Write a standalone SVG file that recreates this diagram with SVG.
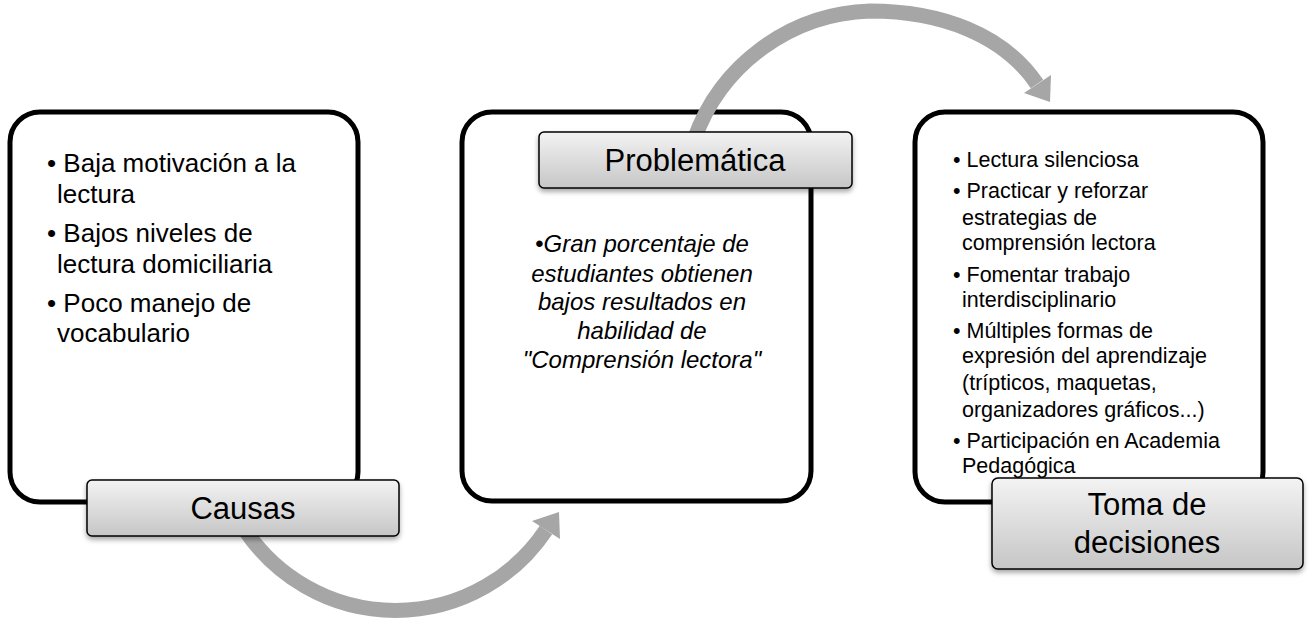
<svg xmlns="http://www.w3.org/2000/svg" width="1310" height="622" viewBox="0 0 1310 622">
<defs>
<linearGradient id="lg" x1="0" y1="0" x2="0" y2="1">
<stop offset="0" stop-color="#f3f3f3"/>
<stop offset="1" stop-color="#c6c6c6"/>
</linearGradient>
<filter id="sh" x="-10%" y="-20%" width="120%" height="160%">
<feDropShadow dx="0" dy="3" stdDeviation="2.5" flood-color="#000" flood-opacity="0.35"/>
</filter>
</defs>
<style>
.box{fill:#fff;stroke:#000;stroke-width:5}
.lab{fill:url(#lg);stroke:#000;stroke-width:1.5;filter:url(#sh)}
.t{font-family:"Liberation Sans",Arial,sans-serif;fill:#000}
.h{font-size:31px;text-anchor:middle}
.b1{font-size:26px}
.b2{font-size:24px;font-style:italic;text-anchor:middle}
.b3{font-size:21.5px}
.arc{fill:none;stroke:#a6a6a6;stroke-width:15}
.head{fill:#a6a6a6}
</style>
<g id="causas">
<rect class="box" x="10" y="112" width="348" height="390" rx="30"/>
<text class="t b1" x="47" y="172">• Baja motivación a la</text>
<text class="t b1" x="57" y="203">lectura</text>
<text class="t b1" x="47" y="242">• Bajos niveles de</text>
<text class="t b1" x="57" y="273">lectura domiciliaria</text>
<text class="t b1" x="47" y="312">• Poco manejo de</text>
<text class="t b1" x="57" y="342">vocabulario</text>
</g>
<g id="problematica">
<rect class="box" x="462" y="112" width="349" height="389" rx="30"/>
<text class="t b2" x="642" y="252">•Gran porcentaje de</text>
<text class="t b2" x="642" y="282">estudiantes obtienen</text>
<text class="t b2" x="642" y="310">bajos resultados en</text>
<text class="t b2" x="642" y="339">habilidad de</text>
<text class="t b2" x="642" y="368">"Comprensión lectora"</text>
</g>
<g id="toma">
<rect class="box" x="915" y="112" width="348" height="390" rx="30"/>
<text class="t b3" x="953" y="167">• Lectura silenciosa</text>
<text class="t b3" x="953" y="198">• Practicar y reforzar</text>
<text class="t b3" x="962" y="225">estrategias de</text>
<text class="t b3" x="962" y="250">comprensión lectora</text>
<text class="t b3" x="953" y="282">• Fomentar trabajo</text>
<text class="t b3" x="962" y="307">interdisciplinario</text>
<text class="t b3" x="953" y="338">• Múltiples formas de</text>
<text class="t b3" x="962" y="363">expresión del aprendizaje</text>
<text class="t b3" x="962" y="390">(trípticos, maquetas,</text>
<text class="t b3" x="962" y="417">organizadores gráficos...)</text>
<text class="t b3" x="953" y="448">• Participación en Academia</text>
<text class="t b3" x="962" y="473">Pedagógica</text>
</g>
<g id="connectors">
<path class="arc" d="M245,530 A181,181 0 0 0 546,530"/>
<polygon class="head" points="559,512 560,539 532,521"/>
<path class="arc" d="M694,140 A193,193 0 0 1 870,11 C940,11 1003,34 1037,84"/>
<polygon class="head" points="1050,102 1051,75 1024,93"/>
</g>
<g id="causas-label">
<rect class="lab" x="87" y="480" width="312" height="56" rx="5"/>
<text class="t h" x="243" y="519">Causas</text>
</g>
<g id="problematica-label">
<rect class="lab" x="539" y="132" width="313" height="56" rx="5"/>
<text class="t h" x="695" y="171">Problemática</text>
</g>
<g id="toma-label">
<rect class="lab" x="992" y="478" width="311" height="91" rx="6"/>
<text class="t h" x="1147" y="515">Toma de</text>
<text class="t h" x="1147" y="553">decisiones</text>
</g>
</svg>
